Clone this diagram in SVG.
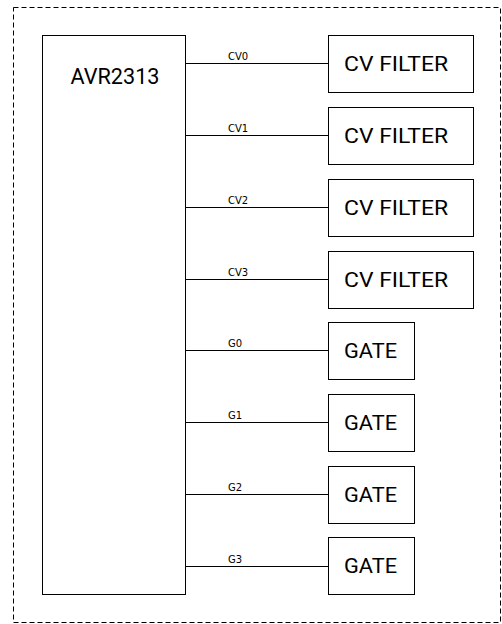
<svg xmlns="http://www.w3.org/2000/svg" width="502" height="624" viewBox="0 0 502 624">
<style>
.box{fill:#fff;stroke:#000;stroke-width:1}
.big{font-family:Roboto,"Liberation Sans",sans-serif;font-size:20px;fill:#000}
.lbl{font-family:"DejaVu Sans",sans-serif;font-size:10px;fill:#000}
.wire{stroke:#000;stroke-width:1;fill:none}
</style>
<rect x="0" y="0" width="502" height="624" fill="#fff"/>
<rect id="frame" x="13.5" y="7.5" width="487" height="615" fill="none" stroke="#000" stroke-width="1" stroke-dasharray="5 3"/>
<g id="avr2313">
<rect class="box" x="42.5" y="35.5" width="143" height="559"/>
<text x="70.5" y="84" style="font-family:Roboto,'Liberation Sans',sans-serif;font-size:22px" textLength="89" lengthAdjust="spacingAndGlyphs">AVR2313</text>
</g>
<g id="connectors">
<line class="wire" x1="186" y1="63.5" x2="328" y2="63.5"/>
<line class="wire" x1="186" y1="135.5" x2="328" y2="135.5"/>
<line class="wire" x1="186" y1="207.5" x2="328" y2="207.5"/>
<line class="wire" x1="186" y1="279.5" x2="328" y2="279.5"/>
<line class="wire" x1="186" y1="350.5" x2="328" y2="350.5"/>
<line class="wire" x1="186" y1="422.5" x2="328" y2="422.5"/>
<line class="wire" x1="186" y1="494.5" x2="328" y2="494.5"/>
<line class="wire" x1="186" y1="566.5" x2="328" y2="566.5"/>
<text class="lbl" x="228" y="60">CV0</text>
<text class="lbl" x="228" y="132">CV1</text>
<text class="lbl" x="228" y="204">CV2</text>
<text class="lbl" x="228" y="276">CV3</text>
<text class="lbl" x="228" y="347">G0</text>
<text class="lbl" x="228" y="419">G1</text>
<text class="lbl" x="228" y="491">G2</text>
<text class="lbl" x="228" y="563">G3</text>
</g>
<g id="cvfilter0"><rect class="box" x="328.5" y="35.5" width="145" height="57"/><text class="big" x="344" y="70.5" textLength="104" lengthAdjust="spacingAndGlyphs">CV FILTER</text></g>
<g id="cvfilter1"><rect class="box" x="328.5" y="107.5" width="145" height="57"/><text class="big" x="344" y="142.5" textLength="104" lengthAdjust="spacingAndGlyphs">CV FILTER</text></g>
<g id="cvfilter2"><rect class="box" x="328.5" y="179.5" width="145" height="57"/><text class="big" x="344" y="214.5" textLength="104" lengthAdjust="spacingAndGlyphs">CV FILTER</text></g>
<g id="cvfilter3"><rect class="box" x="328.5" y="251.5" width="145" height="57"/><text class="big" x="344" y="286.5" textLength="104" lengthAdjust="spacingAndGlyphs">CV FILTER</text></g>
<g id="gate0"><rect class="box" x="328.5" y="322.5" width="86" height="57"/><text class="big" x="344" y="357.5" textLength="53" lengthAdjust="spacingAndGlyphs">GATE</text></g>
<g id="gate1"><rect class="box" x="328.5" y="394.5" width="86" height="57"/><text class="big" x="344" y="429.5" textLength="53" lengthAdjust="spacingAndGlyphs">GATE</text></g>
<g id="gate2"><rect class="box" x="328.5" y="466.5" width="86" height="57"/><text class="big" x="344" y="501.5" textLength="53" lengthAdjust="spacingAndGlyphs">GATE</text></g>
<g id="gate3"><rect class="box" x="328.5" y="537.5" width="86" height="57"/><text class="big" x="344" y="573" textLength="53" lengthAdjust="spacingAndGlyphs">GATE</text></g>
</svg>
